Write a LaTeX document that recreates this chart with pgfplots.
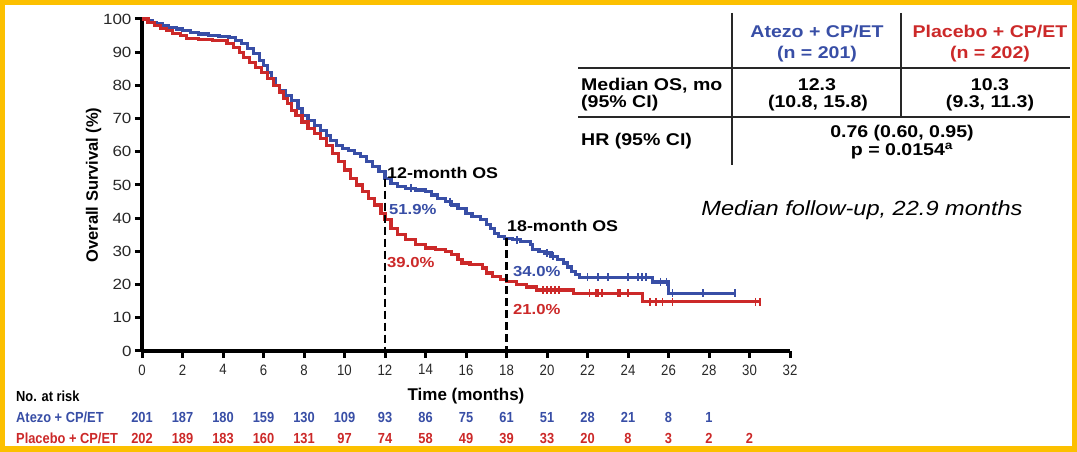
\documentclass[border=0pt]{standalone}
\usepackage{fontspec}
\setmainfont{Liberation Sans}
\newfontfamily\wide{Liberation Sans}[FakeStretch=1.15]
\newfontfamily\narrow{Liberation Sans}[FakeStretch=0.88]
\usepackage{pgfplots}
\usepackage{pgfplotstable}
\pgfplotsset{compat=1.18}
\definecolor{kmblue}{RGB}{56,78,166}
\definecolor{kmred}{RGB}{204,41,41}
\definecolor{frameyellow}{RGB}{252,192,0}
\definecolor{tickgray}{RGB}{40,40,40}

\pgfplotstableread{
t s
0 100
0.3 99.5
0.5 99
0.7 98.5
1.0 98
1.3 97.5
1.7 97
2.0 96.5
2.4 96
2.8 95.5
3.3 95
3.8 94.8
4.3 94.5
4.6 93.5
4.9 92.5
5.2 91
5.5 89.5
5.8 87.5
6.0 86
6.2 84
6.4 82
6.6 80
6.8 78.5
7.1 77
7.4 75.5
7.7 73
7.9 71
8.2 69.5
8.5 68
8.8 66.5
9.1 65
9.3 63.5
9.6 62
9.9 61
10.2 60.5
10.5 59.5
10.8 58.5
11.1 57
11.4 55.5
11.7 54
12.0 52
12.3 50.5
12.6 49.5
13.0 49
13.5 48.5
14.0 48
14.3 47
14.6 46
15.0 45
15.3 44
15.6 43
16.0 41.5
16.3 40.5
16.7 39.5
17.0 38
17.2 37
17.4 35.5
17.6 34.5
17.9 34
18.3 33.5
18.7 33
19.2 32
19.3 30.5
19.6 30
19.9 29.5
20.2 28.5
20.5 27.5
20.8 26.5
21.0 25.3
21.2 24
21.4 23
21.6 22.2
25.2 20.8
26.0 17.4
29.3 17.4
}\atezo

\pgfplotstableread{
t s
0 100
0.3 99
0.6 98
0.9 97.2
1.2 96.5
1.5 95.7
1.9 95
2.2 94.2
2.8 93.8
3.5 93.5
4.2 92.7
4.5 91.5
4.8 90
5.0 88.5
5.3 87
5.6 85.5
5.9 84
6.2 82
6.5 80
6.8 78
7.0 76
7.2 74.5
7.4 72.5
7.6 71
7.9 69
8.2 67
8.5 65.5
8.8 64
9.1 62
9.4 59.5
9.7 57
10.0 54.5
10.3 52
10.6 50
10.9 48
11.2 46
11.5 44
11.8 41.5
12.0 39.5
12.3 37
12.6 35
13.0 33.5
13.5 32
14.0 31
14.5 30.5
15.0 30
15.3 29
15.6 27.5
15.8 26.5
16.2 26
16.8 25
17.0 23.5
17.3 22.5
17.7 21.5
18.0 21
18.5 20
19.0 19.3
19.5 18.4
21.3 17.4
24.7 14.8
30.5 14.8
}\placebo

\pgfplotstableread{
t s
13.3 49
15.2 45
18.5 33.5
20.0 29.5
20.3 28.5
22.0 22.2
22.5 22.2
23.0 22.2
24.0 22.2
24.5 22.2
24.7 22.2
24.9 22.2
25.6 20.8
25.9 20.8
26.2 17.4
27.7 17.4
29.3 17.4
}\atezocens

\pgfplotstableread{
t s
19.8 18.4
20.0 18.4
20.2 18.4
20.4 18.4
20.6 18.4
22.1 17.4
22.4 17.4
22.5 17.4
22.7 17.4
23.5 17.4
23.6 17.4
24.0 17.4
25.1 14.8
25.4 14.8
25.7 14.8
26.2 14.8
30.3 14.8
30.5 14.8
}\placebocens

\begin{document}
\begin{tikzpicture}[x=1pt,y=1pt]
\fill[frameyellow] (0,0) rectangle (1077,452);
\fill[white] (5,6) rectangle (1072,447);
\path[use as bounding box] (0,0) rectangle (1077,452);

\begin{axis}[
  at={(142pt,101pt)}, anchor=south west,
  width=648pt, height=332pt, scale only axis,
  xmin=0, xmax=32, ymin=0, ymax=100,
  enlargelimits=false, clip=false,
  axis lines=left,
  axis line style={-, line width=3.4pt, black},
  xtick={0,2,...,32}, ytick={0,10,...,100},
  tick align=outside,
  major tick length=7pt,
  tick style={line width=3pt, black},
  /pgf/number format/assume math mode=true,
  xticklabel style={font=\narrow\fontsize{15}{17}\selectfont, text=tickgray, yshift=-3pt},
  yticklabel style={font=\wide\fontsize{14.8}{17}\selectfont, text=tickgray},
  xlabel={Time (months)},
  ylabel={Overall Survival (\%)},
  xlabel style={font=\bfseries\fontsize{17}{20}\selectfont, at={(axis description cs:0.5,-0.1476)}, anchor=base},
  ylabel style={font=\bfseries\fontsize{16.5}{19}\selectfont, at={(axis description cs:-0.0748,0.5)}, anchor=center},
]
\addplot[const plot, kmblue, line width=3.2pt] table[x=t,y=s]{\atezo};
\addplot[const plot, kmred, line width=3.2pt] table[x=t,y=s]{\placebo};
\addplot[only marks, mark=|, mark size=4pt, kmblue, mark options={line width=1.8pt}] table[x=t,y=s]{\atezocens};
\addplot[only marks, mark=|, mark size=4pt, kmred, mark options={line width=1.8pt}] table[x=t,y=s]{\placebocens};

\draw[black, line width=2.6pt, dash pattern=on 8pt off 4pt] (axis cs:12,51.9) -- (axis cs:12,0);
\draw[black, line width=2.6pt, dash pattern=on 8pt off 4pt] (axis cs:18,34.0) -- (axis cs:18,0);
\end{axis}

% numbers at risk
\foreach \xx/\nn in {0/201,2/187,4/180,6/159,8/130,10/109,12/93,14/86,16/75,18/61,20/51,22/28,24/21,26/8,28/1}{
  \node[anchor=base, inner sep=0, text=kmblue, font=\narrow\bfseries\fontsize{14.6}{16}\selectfont] at ({142+20.25*\xx},29) {\nn};
}
\foreach \xx/\nn in {0/202,2/189,4/183,6/160,8/131,10/97,12/74,14/58,16/49,18/39,20/33,22/20,24/8,26/3,28/2,30/2}{
  \node[anchor=base, inner sep=0, text=kmred, font=\narrow\bfseries\fontsize{14.6}{16}\selectfont] at ({142+20.25*\xx},8) {\nn};
}

% annotations
\node[anchor=base west, inner sep=0, font=\wide\bfseries\fontsize{15.5}{18}\selectfont] at (387,273.5) {12-month OS};
\node[anchor=base west, inner sep=0, font=\wide\bfseries\fontsize{15.5}{18}\selectfont] at (507,220.5) {18-month OS};
\node[anchor=base west, inner sep=0, text=kmblue, font=\wide\bfseries\fontsize{14.5}{17}\selectfont] at (389,237) {51.9\%};
\node[anchor=base west, inner sep=0, text=kmred, font=\wide\bfseries\fontsize{14.5}{17}\selectfont] at (387,184) {39.0\%};
\node[anchor=base west, inner sep=0, text=kmblue, font=\wide\bfseries\fontsize{14.5}{17}\selectfont] at (513,175) {34.0\%};
\node[anchor=base west, inner sep=0, text=kmred, font=\wide\bfseries\fontsize{14.5}{17}\selectfont] at (513,137) {21.0\%};

\node[anchor=base, inner sep=0, font=\wide\itshape\fontsize{20.5}{24}\selectfont] at (862,236.7) {Median follow-up, 22.9 months};

% summary table
\draw[tickgray, line width=2.2pt] (732,439) -- (732,287);
\draw[tickgray, line width=2.2pt] (901,439) -- (901,335);
\draw[tickgray, line width=2.2pt] (578,384) -- (1070,384);
\draw[tickgray, line width=2.2pt] (578,335) -- (1070,335);
\begin{scope}[every node/.style={inner sep=0, font=\wide\bfseries\fontsize{17}{20}\selectfont}]
\node[anchor=base, text=kmblue] at (817,414) {Atezo + CP/ET};
\node[anchor=base, text=kmblue] at (817,393) {(n = 201)};
\node[anchor=base, text=kmred] at (990,414) {Placebo + CP/ET};
\node[anchor=base, text=kmred] at (990,393) {(n = 202)};
\node[anchor=base west] at (581,361) {Median OS, mo};
\node[anchor=base west] at (581,344) {(95\% CI)};
\node[anchor=base] at (817,361) {12.3};
\node[anchor=base] at (818,344) {(10.8, 15.8)};
\node[anchor=base] at (990,361) {10.3};
\node[anchor=base] at (990,344) {(9.3, 11.3)};
\node[anchor=base west] at (581,306) {HR (95\% CI)};
\node[anchor=base] at (902,314) {0.76 (0.60, 0.95)};
\node[anchor=base] at (902,296) {p = 0.0154\textsuperscript{a}};
\end{scope}

% at-risk row labels
\begin{scope}[every node/.style={inner sep=0, anchor=base west, font=\narrow\bfseries\fontsize{14.6}{16}\selectfont}]
\node at (16,50) {No. at risk};
\node[text=kmblue] at (16,29) {Atezo + CP/ET};
\node[text=kmred] at (16,8) {Placebo + CP/ET};
\end{scope}
\end{tikzpicture}
\end{document}
